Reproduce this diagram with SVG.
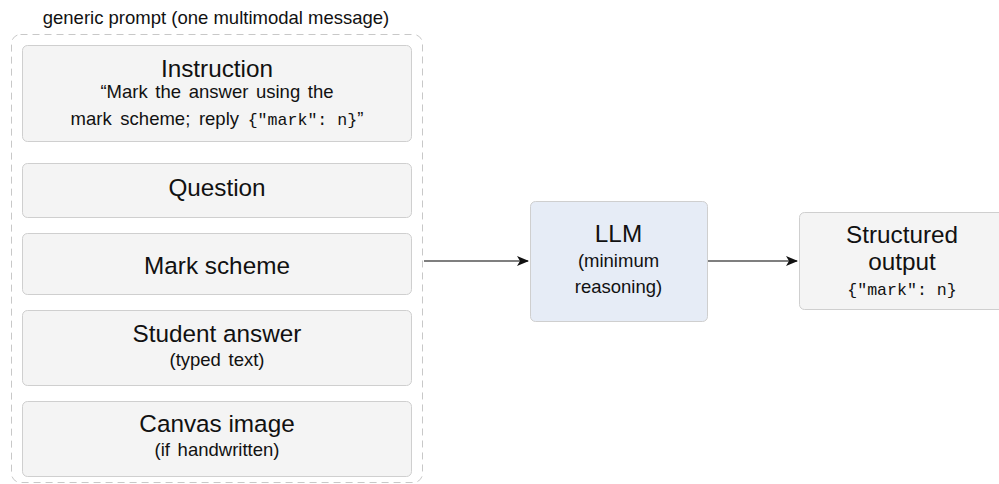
<svg xmlns="http://www.w3.org/2000/svg" width="999" height="484" viewBox="0 0 999 484">
<style>
.box{fill:#f4f4f4;stroke:#cfcfcf;stroke-width:1}
.llm{fill:#e6ecf6;stroke:#cfcfcf;stroke-width:1}
.t{font-family:"Liberation Sans",Arial,Helvetica,sans-serif;fill:#111;text-anchor:middle}
.h{font-size:24.3px}
.s{font-size:18.5px;word-spacing:2.5px}
.m{font-family:"Liberation Mono","Courier New",monospace;font-size:16.6px;word-spacing:0}
.edge{stroke:#555;stroke-width:1.3;fill:none}
</style>
<defs>
<marker id="arr" viewBox="0 0 12 10" refX="11" refY="5" markerWidth="12" markerHeight="10" markerUnits="userSpaceOnUse" orient="auto">
<path d="M0,0 L12,5 L0,10 L3,5 Z" fill="#111"/>
</marker>
</defs>
<rect width="999" height="484" fill="#fff"/>
<g id="container">
<text class="t" x="216" y="24" style="font-size:18.5px">generic prompt (one multimodal message)</text>
<rect x="11.5" y="34.5" width="411" height="448" rx="9" fill="none" stroke="#c8c8c8" stroke-width="1" stroke-dasharray="7,5"/>
</g>
<g id="instruction">
<rect class="box" x="22.5" y="45.5" width="389" height="96" rx="5"/>
<text class="t h" x="217" y="77">Instruction</text>
<text class="t s" x="217" y="98">“Mark the answer using the</text>
<text class="t s" x="217" y="125" style="word-spacing:3.5px">mark scheme; reply <tspan class="m">{"mark": n}</tspan>”</text>
</g>
<g id="question">
<rect class="box" x="22.5" y="163.5" width="389" height="54" rx="5"/>
<text class="t h" x="217" y="196">Question</text>
</g>
<g id="markscheme">
<rect class="box" x="22.5" y="233.5" width="389" height="61" rx="5"/>
<text class="t h" x="217" y="273.5">Mark scheme</text>
</g>
<g id="student">
<rect class="box" x="22.5" y="310.5" width="389" height="75" rx="5"/>
<text class="t h" x="217" y="342">Student answer</text>
<text class="t s" x="217" y="366">(typed text)</text>
</g>
<g id="canvas">
<rect class="box" x="22.5" y="401.5" width="389" height="75" rx="5"/>
<text class="t h" x="217" y="432">Canvas image</text>
<text class="t s" x="217" y="456">(if handwritten)</text>
</g>
<g id="llm">
<rect class="llm" x="530.5" y="201.5" width="177" height="120" rx="5"/>
<text class="t h" x="618.5" y="241.5">LLM</text>
<text class="t s" x="618.5" y="266.5">(minimum</text>
<text class="t s" x="618.5" y="293">reasoning)</text>
</g>
<g id="output">
<rect class="box" x="799.5" y="212.5" width="210" height="97" rx="5"/>
<text class="t h" x="902" y="242.5">Structured</text>
<text class="t h" x="902" y="269.5">output</text>
<text class="t m" x="902" y="295">{"mark": n}</text>
</g>
<g id="connectors">
<line class="edge" x1="424" y1="261" x2="528" y2="261" marker-end="url(#arr)"/>
<line class="edge" x1="708" y1="261" x2="797" y2="261" marker-end="url(#arr)"/>
</g>
</svg>
